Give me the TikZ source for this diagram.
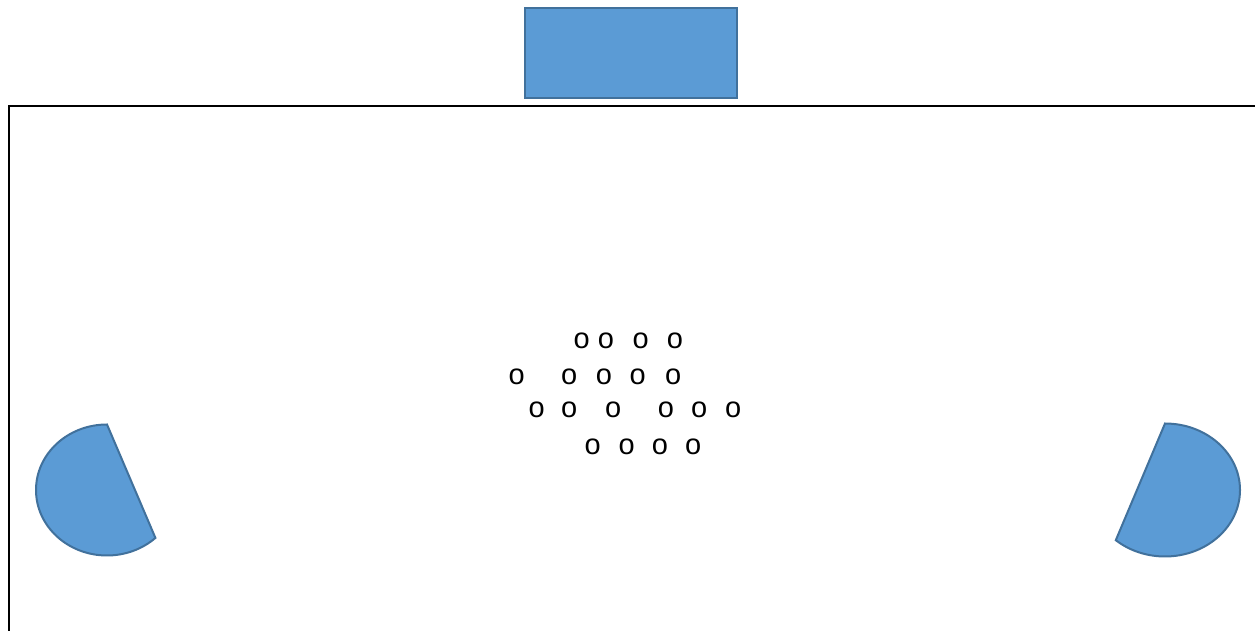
\documentclass[tikz,border=0pt]{standalone}
\usepackage{fontspec}
\setmainfont{Liberation Sans}
\definecolor{shapefill}{HTML}{5B9BD5}
\definecolor{shapeline}{HTML}{41719C}
\tikzset{
  blueshape/.style={fill=shapefill,draw=shapeline,line width=2pt},
  frameline/.style={draw=black,line width=2pt},
  person/.style={inner sep=0pt,font=\fontsize{29}{31}\selectfont}
}
\begin{document}
\begin{tikzpicture}[x=1pt,y=1pt]
\useasboundingbox (0,0) rectangle (1255,631);
\fill[white] (0,0) rectangle (1255,631);
% room outline
\draw[frameline] (9,-2) -- (9,525) -- (1258,525);
% top box
\node[blueshape,minimum width=212pt,minimum height=90pt,inner sep=0pt] (box) at (631,578) {};
% left pie
\draw[blueshape] (107,206.5) arc[start angle=90,end angle=313,x radius=71,y radius=65.5] -- cycle;
% right pie
\draw[blueshape] (1165,207.5) arc[start angle=90,end angle=-131,x radius=75,y radius=66.5] -- cycle;
% people
\foreach \x [count=\i] in {581.7,606,640.7,675}
  \node[person] (a\i) at (\x,290.3) {o};
\foreach \x [count=\i] in {516.7,569.3,604,637.7,673.3}
  \node[person] (b\i) at (\x,254.3) {o};
\foreach \x [count=\i] in {536.7,569.3,613.3,666,699.3,733.3}
  \node[person] (c\i) at (\x,221) {o};
\foreach \x [count=\i] in {592.7,626.7,660,693.3}
  \node[person] (d\i) at (\x,184.3) {o};
\end{tikzpicture}
\end{document}
